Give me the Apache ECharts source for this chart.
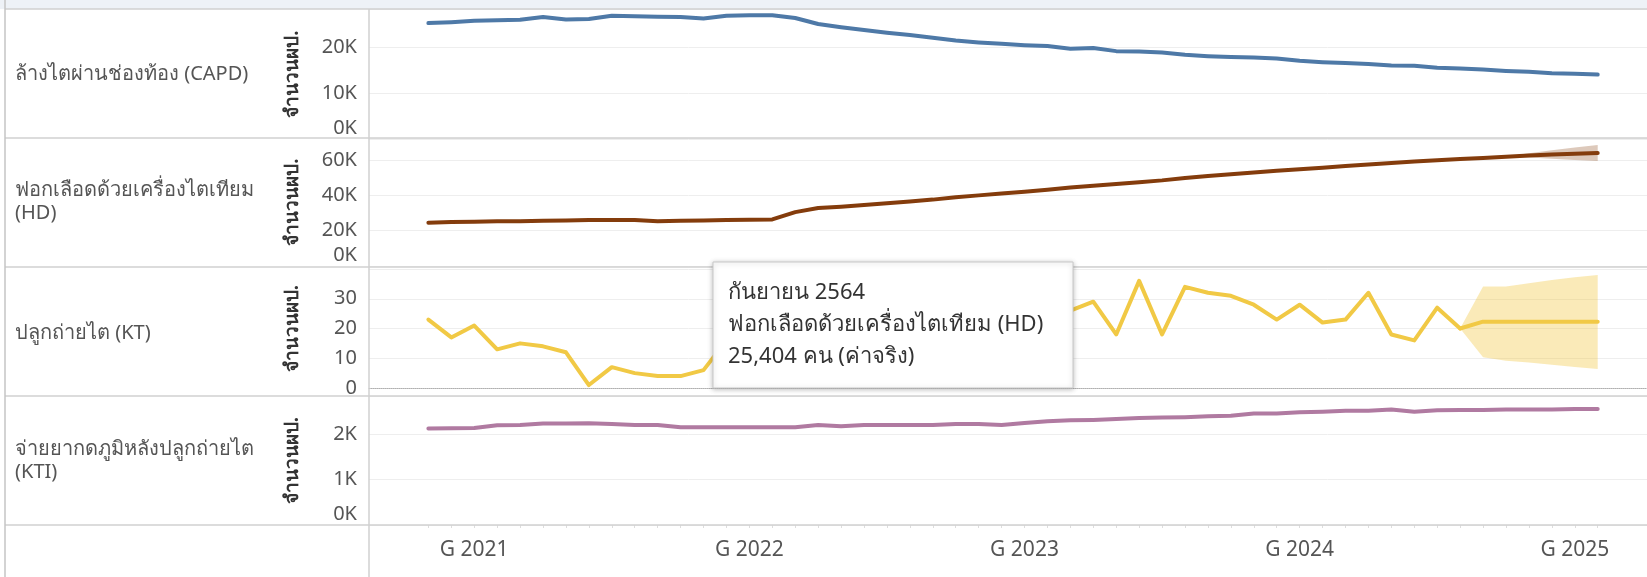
<!DOCTYPE html>
<html><head><meta charset="utf-8">
<script src="https://cdn.jsdelivr.net/npm/echarts@6/dist/echarts.min.js"></script>
<style>html,body{margin:0;padding:0;background:#fff}#c{width:1647px;height:577px}</style>
</head><body><div id="c"></div>
<script>
const months = ['2020-11','2020-12',
 '2021-01','2021-02','2021-03','2021-04','2021-05','2021-06','2021-07','2021-08','2021-09','2021-10','2021-11','2021-12',
 '2022-01','2022-02','2022-03','2022-04','2022-05','2022-06','2022-07','2022-08','2022-09','2022-10','2022-11','2022-12',
 '2023-01','2023-02','2023-03','2023-04','2023-05','2023-06','2023-07','2023-08','2023-09','2023-10','2023-11','2023-12',
 '2024-01','2024-02','2024-03','2024-04','2024-05','2024-06','2024-07','2024-08','2024-09','2024-10','2024-11','2024-12',
 '2025-01','2025-02'];

const rowLabels = ['ล้างไตผ่านช่องท้อง (CAPD)', 'ฟอกเลือดด้วยเครื่องไตเทียม\n(HD)', 'ปลูกถ่ายไต (KT)', 'จ่ายยากดภูมิหลังปลูกถ่ายไต\n(KTI)'];
const axisTitle = 'จำนวนผป.';

const capd = [25200,25400,25700,25800,25900,26500,26000,26100,26800,26700,
 26600,26500,26200,26800,26900,26900,26300,25000,24300,23700,
 23100,22600,22000,21400,21000,20700,20400,20200,19600,19800,
 19100,19000,18800,18300,18000,17800,17700,17500,17000,16700,
 16500,16300,16000,15900,15500,15300,15100,14800,14600,14300,
 14200,14000];

const hd = [24500,24900,25100,25300,25400,25600,25800,26000,26000,26000,
 25404,25600,25800,26000,26200,26400,30500,32800,33600,34500,
 35600,36600,37600,39000,40000,41000,42000,43200,44500,45500,
 46500,47500,48500,49800,51000,52000,53000,53900,54800,55700,
 56600,57500,58300,59200,59900,60600,61200,61900,62600,63100,
 63600,64000];
const hdBandMonths = ['2024-08','2024-09','2024-10','2024-11','2024-12','2025-01','2025-02'];
const hdBandLow  = [60600,61200,61800,61400,60700,60100,59500];
const hdBandHigh = [60600,61200,62000,63800,65500,67100,68500];

const kt = [23,17,21,13,15,14,12,1,7,5,
 4,4,6,16,12,18,14,20,17,22,
 19,24,21,23,20,25,22,24,26,29,
 18,36,18,34,32,31,28,23,28,22,
 23,32,18,16,27,20];
const ktFcMonths = ['2024-08','2024-09','2024-10','2024-11','2024-12','2025-01','2025-02'];
const ktFc     = [20,22.3,22.3,22.3,22.3,22.3,22.3];
const ktFcLow  = [20,10.3,9.2,8.6,7.8,7.1,6.4];
const ktFcHigh = [20,34.1,34.1,35.2,36.3,37.2,38.0];

const kti = [2120,2125,2130,2190,2200,2230,2230,2235,2220,2200,
 2200,2150,2150,2150,2150,2150,2150,2200,2170,2200,
 2200,2200,2200,2220,2220,2200,2240,2280,2300,2310,
 2330,2350,2360,2370,2390,2400,2450,2450,2480,2490,
 2510,2510,2540,2490,2520,2530,2530,2540,2540,2540,
 2550,2550];

const yearTickMonths = ['2021-01','2022-01','2023-01','2024-01','2025-01'];
const yearTickLabels = ['G 2021','G 2022','G 2023','G 2024','G 2025'];
const tooltipLines = ['กันยายน 2564','ฟอกเลือดด้วยเครื่องไตเทียม (HD)','25,404 คน (ค่าจริง)'];

const FONT = '"Noto Sans", "Liberation Sans", sans-serif';
function mi(s){const p=s.split('-').map(Number);return (p[0]-2020)*12+(p[1]-1);}
function pairs(ms, vals){return vals.map((v,i)=>[mi(ms[i]), v]);}
const X_MIN = 7.41, X_MAX = 63.15;

const grids = [
  {left:369,right:0,top:9,height:130},
  {left:369,right:0,top:138,height:128},
  {left:369,right:0,top:269,height:119},
  {left:369,right:0,top:396,height:129}
];
const kFmt = v => v===0 ? '{z|0K}' : (v/1000)+'K';
const rich = {z:{fontSize:20,fontFamily:FONT,color:'#555',padding:[0,0,22,0]}};
function yAx(gi, max, interval, fmt){
  return {type:'value', gridIndex:gi, min:0, max:max, interval:interval,
    name:axisTitle, nameLocation:'middle', nameGap:67,
    nameTextStyle:{fontFamily:FONT,fontSize:19,fontWeight:'bold',color:'#333'},
    axisLine:{show:false}, axisTick:{show:false},
    axisLabel:{fontFamily:FONT,fontSize:20,color:'#555',margin:12,showMaxLabel:false,formatter:fmt,rich:rich},
    splitLine:{lineStyle:{color:'#eeeeee',width:1}}};
}
function xAx(gi, extra){
  return Object.assign({type:'value', gridIndex:gi, min:X_MIN, max:X_MAX, show:false, splitLine:{show:false}}, extra||{});
}
const xAxes = [
  xAx(0), xAx(1),
  xAx(2,{show:true, axisLine:{show:true,lineStyle:{color:'#b0b0b0',type:'dotted',width:1}}, axisTick:{show:false}, axisLabel:{show:false}}),
  xAx(3,{show:true, axisLine:{show:false},
    axisTick:{show:true, length:3, lineStyle:{color:'#dddddd'}, customValues: months.map(mi)},
    axisLabel:{show:true, customValues: yearTickMonths.map(mi), margin:15,
      fontFamily:FONT, fontSize:21, color:'#555',
      formatter: v => yearTickLabels[yearTickMonths.map(mi).indexOf(v)] || ''}})
];
const yAxes = [
  yAx(0, 28260, 10000, kFmt),
  yAx(1, 72500, 20000, kFmt),
  yAx(2, 40, 10, v => (v===40 ? '' : String(v))),
  yAx(3, 2835, 1000, kFmt)
];
function line(gi, data, color, extra){
  return Object.assign({type:'line', xAxisIndex:gi, yAxisIndex:gi, data:data, showSymbol:false, symbol:'none',
    lineStyle:{color:color, width:4, cap:'round', join:'round'}, itemStyle:{color:color}, z:5}, extra||{});
}
function band(gi, ms, low, high, color){
  const rows = ms.map((m,i)=>[mi(m), low[i], high[i]]);
  return {type:'custom', xAxisIndex:gi, yAxisIndex:gi, data:rows, encode:{x:0, y:[1,2]}, silent:true, z:2,
    renderItem:(params, api)=>{
      if (params.dataIndex !== 0) return null;
      const top = rows.map(r=>api.coord([r[0], r[2]]));
      const bot = rows.map(r=>api.coord([r[0], r[1]])).reverse();
      return {type:'polygon', shape:{points:top.concat(bot)}, style:{fill:color}};
    }};
}
const series = [
  line(0, pairs(months, capd), '#4e79a7'),
  band(1, hdBandMonths, hdBandLow, hdBandHigh, 'rgba(132,60,12,0.28)'),
  line(1, pairs(months, hd), '#843c0c'),
  band(2, ktFcMonths, ktFcLow, ktFcHigh, 'rgba(241,201,69,0.38)'),
  line(2, pairs(months.slice(0, kt.length), kt), '#f1c945'),
  line(2, pairs(ktFcMonths, ktFc), '#f1c945'),
  line(3, pairs(months, kti), '#b07aa1')
];

const border = '#d0d0d0';
const g = [
  {type:'rect', shape:{x:0,y:0,width:1647,height:9}, style:{fill:'#eef2f7'}, z:0},
];
[9,138,267,396,525].forEach(y=>g.push({type:'line', shape:{x1:5,y1:y,x2:1647,y2:y}, style:{stroke:border,lineWidth:1.5}, z:10}));
g.push({type:'line', shape:{x1:5,y1:0,x2:5,y2:577}, style:{stroke:'#c4c4c4',lineWidth:1.5}, z:10});
g.push({type:'line', shape:{x1:369,y1:9,x2:369,y2:577}, style:{stroke:border,lineWidth:1.5}, z:10});
const rowCenters = [74, 202, 333, 461];
rowLabels.forEach((t,i)=>g.push({type:'text', x:15, y:rowCenters[i], z:10,
  style:{text:t, font:'20px '+FONT, fill:'#555', verticalAlign:'middle', lineHeight:23}}));
g.push({type:'rect', shape:{x:713,y:262,width:360,height:126}, z:100,
  style:{fill:'#ffffff', stroke:'#c8c8c8', lineWidth:1, shadowBlur:5, shadowColor:'rgba(0,0,0,0.25)', shadowOffsetY:1}});
g.push({type:'text', x:728, y:277, z:101,
  style:{text:tooltipLines.join('\n'), font:'22px '+FONT, fill:'#333', lineHeight:32, verticalAlign:'top'}});

const chart = echarts.init(document.getElementById('c'), null, {renderer:'canvas'});
chart.setOption({
  animation:false, backgroundColor:'#fff',
  grid:grids, xAxis:xAxes, yAxis:yAxes, series:series, graphic:g
});
</script></body></html>
